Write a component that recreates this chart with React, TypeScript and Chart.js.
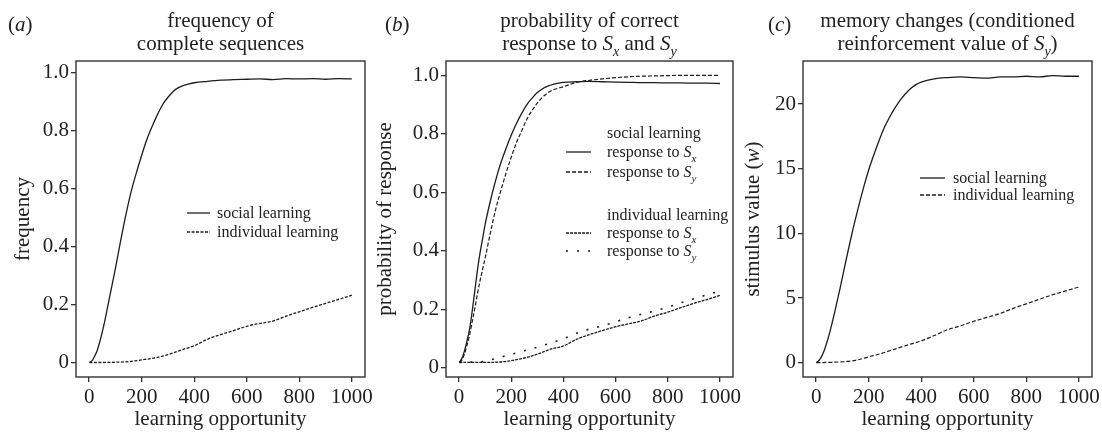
import React, { useEffect, useRef } from 'react';
import { Chart, registerables } from 'chart.js';

Chart.register(...registerables);

const FONT = '"Liberation Serif", "Times New Roman", serif';
const INK = '#222222';
const FRAME = '#333333';
const LINE = '#1c1c1c';

// ---------- shared axis ----------
const X_TICKS = [0, 200, 400, 600, 800, 1000];
const X_MIN = -50;
const X_MAX = 1050;

// ---------- panel (a): frequency of complete sequences ----------
const A_SOCIAL_X = [1, 10, 20, 30, 40, 50, 60, 70, 80, 90, 100, 120, 140, 160, 180, 200, 220, 240, 260, 280, 300, 320, 340, 360, 380, 400, 450, 500, 550, 600, 650, 700, 750, 800, 850, 900, 950, 1000];
const A_SOCIAL_Y = [0, 0.005, 0.02, 0.04, 0.07, 0.105, 0.145, 0.19, 0.235, 0.28, 0.325, 0.42, 0.51, 0.59, 0.655, 0.715, 0.77, 0.815, 0.855, 0.89, 0.915, 0.935, 0.948, 0.956, 0.961, 0.965, 0.97, 0.974, 0.976, 0.977, 0.978, 0.976, 0.979, 0.978, 0.979, 0.977, 0.979, 0.978];
const A_INDIV_X = [1, 50, 100, 150, 200, 250, 300, 350, 400, 450, 500, 550, 600, 650, 700, 750, 800, 850, 900, 950, 1000];
const A_INDIV_Y = [0, 0, 0.001, 0.003, 0.009, 0.016, 0.027, 0.043, 0.058, 0.08, 0.096, 0.11, 0.125, 0.135, 0.143, 0.16, 0.175, 0.19, 0.204, 0.218, 0.232];
const A_Y_TICKS = [0, 0.2, 0.4, 0.6, 0.8, 1.0];

// ---------- panel (b): probability of correct response ----------
const B_SOCIAL_X = [1, 10, 20, 30, 40, 50, 60, 70, 80, 90, 100, 120, 140, 160, 180, 200, 220, 240, 260, 280, 300, 320, 340, 360, 380, 400, 450, 500, 550, 600, 650, 700, 750, 800, 850, 900, 950, 1000];
const B_SOCIAL_SX = [0.018, 0.03, 0.055, 0.09, 0.13, 0.19, 0.26, 0.33, 0.39, 0.44, 0.49, 0.57, 0.64, 0.7, 0.75, 0.795, 0.835, 0.87, 0.9, 0.922, 0.941, 0.954, 0.963, 0.969, 0.973, 0.976, 0.978, 0.979, 0.978, 0.977, 0.976, 0.975, 0.975, 0.974, 0.974, 0.973, 0.973, 0.972];
const B_SOCIAL_SY = [0.018, 0.025, 0.045, 0.075, 0.11, 0.155, 0.2, 0.25, 0.295, 0.335, 0.375, 0.46, 0.54, 0.605, 0.665, 0.72, 0.77, 0.81, 0.85, 0.88, 0.905, 0.925, 0.94, 0.95, 0.956, 0.961, 0.976, 0.983, 0.988, 0.992, 0.995, 0.997, 0.998, 0.999, 1.0, 1.0, 1.0, 1.0];
const B_INDIV_X = [1, 50, 100, 150, 200, 250, 300, 350, 400, 450, 500, 550, 600, 650, 700, 750, 800, 850, 900, 950, 1000];
const B_INDIV_SX = [0.018, 0.018, 0.018, 0.019, 0.024, 0.033, 0.046, 0.063, 0.074, 0.097, 0.113, 0.127, 0.14, 0.15, 0.16, 0.177, 0.19, 0.205, 0.22, 0.233, 0.247];
const B_INDIV_SY = [0.018, 0.019, 0.022, 0.034, 0.045, 0.058, 0.07, 0.084, 0.099, 0.118, 0.132, 0.143, 0.157, 0.171, 0.183, 0.194, 0.207, 0.222, 0.236, 0.249, 0.262];
const B_Y_TICKS = [0, 0.2, 0.4, 0.6, 0.8, 1.0];

// ---------- panel (c): memory changes ----------
const C_SOCIAL_X = [1, 10, 20, 30, 40, 50, 60, 70, 80, 90, 100, 120, 140, 160, 180, 200, 220, 240, 260, 280, 300, 320, 340, 360, 380, 400, 450, 500, 550, 600, 650, 700, 750, 800, 850, 900, 950, 1000];
const C_SOCIAL_Y = [0, 0.15, 0.45, 0.9, 1.5, 2.2, 3.0, 3.85, 4.75, 5.65, 6.6, 8.5, 10.3, 11.95, 13.5, 14.9, 16.1, 17.2, 18.2, 19.0, 19.7, 20.3, 20.8, 21.2, 21.5, 21.7, 21.95, 22.05, 22.1, 22.05, 22.0, 22.1, 22.1, 22.15, 22.1, 22.2, 22.15, 22.15];
const C_INDIV_X = [1, 50, 100, 150, 200, 250, 300, 350, 400, 450, 500, 550, 600, 650, 700, 750, 800, 850, 900, 950, 1000];
const C_INDIV_Y = [0, 0.02, 0.07, 0.18, 0.45, 0.72, 1.05, 1.38, 1.68, 2.1, 2.55, 2.85, 3.2, 3.5, 3.8, 4.2, 4.55, 4.9, 5.25, 5.55, 5.85];
const C_Y_TICKS = [0, 5, 10, 15, 20];

type Seg = { t: string; i?: boolean; sub?: boolean };

const fontFor = (size: number, italic?: boolean) => `${italic ? 'italic ' : ''}${size}px ${FONT}`;

function segSize(s: Seg, size: number) {
  return s.sub ? Math.round(size * 0.66) : size;
}

function measureRich(ctx: CanvasRenderingContext2D, segs: Seg[], size: number) {
  let w = 0;
  for (const s of segs) {
    ctx.font = fontFor(segSize(s, size), s.i);
    w += ctx.measureText(s.t).width;
  }
  return w;
}

function drawRich(ctx: CanvasRenderingContext2D, segs: Seg[], x: number, y: number, size: number, align: 'left' | 'center', baseline: CanvasTextBaseline = 'alphabetic') {
  let cx = align === 'center' ? x - measureRich(ctx, segs, size) / 2 : x;
  ctx.textAlign = 'left';
  ctx.textBaseline = baseline;
  for (const s of segs) {
    const sz = segSize(s, size);
    ctx.font = fontFor(sz, s.i);
    const dy = s.sub ? size * 0.3 : 0;
    ctx.fillText(s.t, cx, y + dy);
    cx += ctx.measureText(s.t).width;
  }
}

const pts = (xs: number[], ys: number[]) => xs.map((x, k) => ({ x, y: ys[k] }));

type LegendItem = { dash?: number[]; width?: number; x1?: number; x2?: number; y: number; tx: number; segs: Seg[] };

type Panel = {
  padLeft: number;
  yWidth: number;
  padRight: number;
  yMin: number;
  yMax: number;
  yTicks: number[];
  yFmt: (v: number) => string;
  series: { xs: number[]; ys: number[]; dash: number[]; width: number }[];
  tag: Seg[];
  tagX: number;
  title: Seg[][];
  yTitle: Seg[];
  yTitleX: number;
  legend: LegendItem[];
};

const SX: Seg[] = [{ t: 'response to ' }, { t: 'S', i: true }, { t: 'x', i: true, sub: true }];
const SY: Seg[] = [{ t: 'response to ' }, { t: 'S', i: true }, { t: 'y', i: true, sub: true }];

const PANELS: Panel[] = [
  {
    padLeft: 0,
    yWidth: 76,
    padRight: 1102 - 365,
    yMin: -0.05,
    yMax: 1.04,
    yTicks: A_Y_TICKS,
    yFmt: (v) => (v === 0 ? '0' : v.toFixed(1)),
    series: [
      { xs: A_SOCIAL_X, ys: A_SOCIAL_Y, dash: [], width: 1.3 },
      { xs: A_INDIV_X, ys: A_INDIV_Y, dash: [3, 1.5], width: 1.3 },
    ],
    tag: [{ t: '(' }, { t: 'a', i: true }, { t: ')' }],
    tagX: 8,
    title: [[{ t: 'frequency of' }], [{ t: 'complete sequences' }]],
    yTitle: [{ t: 'frequency' }],
    yTitleX: 29,
    legend: [
      { x1: 111, x2: 134, y: 152, tx: 141, segs: [{ t: 'social learning' }], dash: [] },
      { x1: 111, x2: 134, y: 171, tx: 141, segs: [{ t: 'individual learning' }], dash: [3, 1.5] },
    ],
  },
  {
    padLeft: 370,
    yWidth: 76,
    padRight: 1102 - 733,
    yMin: -0.032,
    yMax: 1.049,
    yTicks: B_Y_TICKS,
    yFmt: (v) => (v === 0 ? '0' : v.toFixed(1)),
    series: [
      { xs: B_SOCIAL_X, ys: B_SOCIAL_SX, dash: [], width: 1.3 },
      { xs: B_SOCIAL_X, ys: B_SOCIAL_SY, dash: [4, 2], width: 1.2 },
      { xs: B_INDIV_X, ys: B_INDIV_SX, dash: [3, 1], width: 1.3 },
      { xs: B_INDIV_X, ys: B_INDIV_SY, dash: [2, 9], width: 1.6 },
    ],
    tag: [{ t: '(' }, { t: 'b', i: true }, { t: ')' }],
    tagX: 385,
    title: [
      [{ t: 'probability of correct' }],
      [{ t: 'response to ' }, { t: 'S', i: true }, { t: 'x', i: true, sub: true }, { t: ' and ' }, { t: 'S', i: true }, { t: 'y', i: true, sub: true }],
    ],
    yTitle: [{ t: 'probability of response' }],
    yTitleX: 391,
    legend: [
      { y: 72, tx: 161, segs: [{ t: 'social learning' }] },
      { x1: 120, x2: 145, y: 91, tx: 161, segs: SX, dash: [] },
      { x1: 120, x2: 145, y: 111, tx: 161, segs: SY, dash: [4, 2] },
      { y: 154, tx: 161, segs: [{ t: 'individual learning' }] },
      { x1: 120, x2: 145, y: 172, tx: 161, segs: SX, dash: [3, 1] },
      { x1: 120, x2: 145, y: 190, tx: 161, segs: SY, dash: [2, 9], width: 1.6 },
    ],
  },
  {
    padLeft: 740,
    yWidth: 63,
    padRight: 1102 - 1092,
    yMin: -1.11,
    yMax: 23.33,
    yTicks: C_Y_TICKS,
    yFmt: (v) => String(v),
    series: [
      { xs: C_SOCIAL_X, ys: C_SOCIAL_Y, dash: [], width: 1.3 },
      { xs: C_INDIV_X, ys: C_INDIV_Y, dash: [4, 2], width: 1.2 },
    ],
    tag: [{ t: '(' }, { t: 'c', i: true }, { t: ')' }],
    tagX: 768,
    title: [
      [{ t: 'memory changes (conditioned' }],
      [{ t: 'reinforcement value of ' }, { t: 'S', i: true }, { t: 'y', i: true, sub: true }, { t: ')' }],
    ],
    yTitle: [{ t: 'stimulus value (' }, { t: 'w', i: true }, { t: ')' }],
    yTitleX: 759,
    legend: [
      { x1: 117, x2: 142, y: 117, tx: 150, segs: [{ t: 'social learning' }], dash: [] },
      { x1: 117, x2: 142, y: 134, tx: 150, segs: [{ t: 'individual learning' }], dash: [4, 2] },
    ],
  },
];

function makeOverlay(p: Panel) {
  return {
    id: 'overlay',
    afterDraw(chart: any) {
      const ctx: CanvasRenderingContext2D = chart.ctx;
      const ca = chart.chartArea;
      ctx.save();
      // frame
      ctx.strokeStyle = FRAME;
      ctx.lineWidth = 1.4;
      ctx.setLineDash([]);
      ctx.strokeRect(ca.left, ca.top, ca.right - ca.left, ca.bottom - ca.top);

      ctx.fillStyle = INK;
      const cx = (ca.left + ca.right) / 2;
      // panel tag
      drawRich(ctx, p.tag, p.tagX, 31, 21, 'left');
      // titles
      drawRich(ctx, p.title[0], cx, 27, 21, 'center');
      drawRich(ctx, p.title[1], cx, 50, 21, 'center');
      // x title
      drawRich(ctx, [{ t: 'learning opportunity' }], cx, 425, 21, 'center');
      // y title (rotated)
      ctx.save();
      ctx.translate(p.yTitleX, (ca.top + ca.bottom) / 2);
      ctx.rotate(-Math.PI / 2);
      drawRich(ctx, p.yTitle, 0, 0, 21, 'center');
      ctx.restore();

      // legend
      for (const it of p.legend) {
        const y = ca.top + it.y;
        if (it.x1 !== undefined && it.x2 !== undefined) {
          ctx.strokeStyle = LINE;
          ctx.lineWidth = it.width ?? 1.3;
          ctx.setLineDash(it.dash ?? []);
          ctx.beginPath();
          ctx.moveTo(ca.left + it.x1, y);
          ctx.lineTo(ca.left + it.x2, y);
          ctx.stroke();
          ctx.setLineDash([]);
        }
        ctx.fillStyle = INK;
        drawRich(ctx, it.segs, ca.left + it.tx, y + 5, 16, 'left');
      }
      ctx.restore();
    },
  };
}

function PanelChart({ p }: { p: Panel }) {
  const ref = useRef<HTMLCanvasElement | null>(null);
  useEffect(() => {
    if (!ref.current) return;
    const chart = new Chart(ref.current, {
      type: 'line',
      data: {
        datasets: p.series.map((s) => ({
          data: pts(s.xs, s.ys),
          borderColor: LINE,
          borderWidth: s.width,
          borderDash: s.dash,
          pointRadius: 0,
          fill: false,
          cubicInterpolationMode: 'monotone' as const,
        })),
      },
      options: {
        responsive: false,
        animation: false,
        events: [],
        layout: { padding: { left: p.padLeft, right: p.padRight, top: 61, bottom: 0 } },
        plugins: { legend: { display: false }, tooltip: { enabled: false }, title: { display: false } },
        scales: {
          x: {
            type: 'linear',
            min: X_MIN,
            max: X_MAX,
            afterBuildTicks: (s: any) => {
              s.ticks = X_TICKS.map((v) => ({ value: v }));
            },
            afterFit: (s: any) => {
              s.height = 59;
              s.paddingLeft = 0;
              s.paddingRight = 0;
            },
            ticks: {
              font: { family: FONT, size: 21 },
              color: INK,
              padding: 3,
              maxRotation: 0,
              autoSkip: false,
              callback: (v: any) => String(v),
            },
            grid: { display: true, drawOnChartArea: false, drawTicks: true, tickLength: 5, color: FRAME, lineWidth: 1.3 },
            border: { display: false },
          },
          y: {
            type: 'linear',
            min: p.yMin,
            max: p.yMax,
            afterBuildTicks: (s: any) => {
              s.ticks = p.yTicks.map((v) => ({ value: v }));
            },
            afterFit: (s: any) => {
              s.width = p.yWidth;
              s.paddingTop = 0;
              s.paddingBottom = 0;
            },
            ticks: {
              font: { family: FONT, size: 21 },
              color: INK,
              padding: 2,
              autoSkip: false,
              callback: (v: any) => p.yFmt(Number(v)),
            },
            grid: { display: true, drawOnChartArea: false, drawTicks: true, tickLength: 5, color: FRAME, lineWidth: 1.3 },
            border: { display: false },
          },
        },
      },
      plugins: [makeOverlay(p)],
    } as any);
    return () => chart.destroy();
  }, [p]);
  return <canvas ref={ref} width={1102} height={436} style={{ position: 'absolute', left: 0, top: 0 }} />;
}

export default function App() {
  return (
    <div style={{ position: 'absolute', left: 0, top: 0, width: 1102, height: 436, background: '#fff' }}>
      {PANELS.map((p, k) => (
        <PanelChart key={k} p={p} />
      ))}
    </div>
  );
}
